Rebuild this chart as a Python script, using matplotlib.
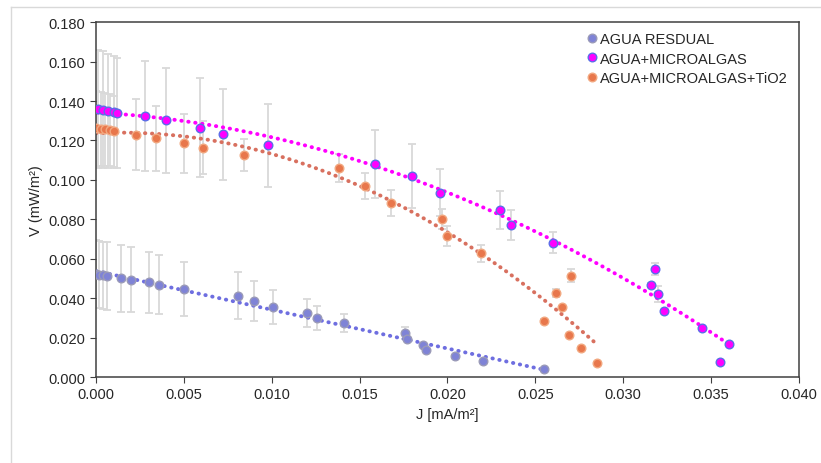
import numpy as np
import matplotlib
matplotlib.use("Agg")
import matplotlib.pyplot as plt
from matplotlib.lines import Line2D

plt.rcParams['font.family'] = ['Liberation Sans', 'DejaVu Sans']

# AGUA RESDUAL
j_res = [0.0000, 0.0002, 0.0004, 0.0006, 0.0014, 0.0020, 0.0030, 0.0036, 0.0050,
         0.0081, 0.0090, 0.0101, 0.0120, 0.0126, 0.0141, 0.0176, 0.0177, 0.0186,
         0.0188, 0.0204, 0.0220, 0.0255]
v_res = [0.0524, 0.0520, 0.0516, 0.0513, 0.0500, 0.0493, 0.0481, 0.0468, 0.0447,
         0.0413, 0.0385, 0.0354, 0.0325, 0.0300, 0.0273, 0.0224, 0.0193, 0.0164,
         0.0139, 0.0106, 0.0080, 0.0039]
e_res = [0.0172, 0.0172, 0.0171, 0.0171, 0.0170, 0.0165, 0.0155, 0.0150, 0.0137,
         0.0120, 0.0100, 0.0086, 0.0073, 0.0060, 0.0047, 0.0030, 0.0010, 0.0008,
         0.0008, 0.0008, 0.0008, 0.0006]

# AGUA+MICROALGAS
j_mic = [0.0001, 0.0004, 0.0007, 0.0010, 0.0012, 0.0028, 0.0040, 0.0059, 0.0072,
         0.0098, 0.0159, 0.0180, 0.0196, 0.0230, 0.0236, 0.0260, 0.0316, 0.0318,
         0.0320, 0.0323, 0.0345, 0.0355, 0.0360]
v_mic = [0.1360, 0.1357, 0.1350, 0.1345, 0.1340, 0.1325, 0.1302, 0.1265, 0.1232,
         0.1176, 0.1081, 0.1021, 0.0936, 0.0849, 0.0770, 0.0681, 0.0469, 0.0549,
         0.0422, 0.0334, 0.0248, 0.0078, 0.0166]
e_mic = [0.0300, 0.0295, 0.0290, 0.0285, 0.0280, 0.0280, 0.0265, 0.0250, 0.0230,
         0.0210, 0.0174, 0.0162, 0.0120, 0.0097, 0.0075, 0.0053, 0.0010, 0.0030,
         0.0040, 0.0008, 0.0006, 0.0005, 0.0005]

# AGUA+MICROALGAS+TiO2
j_tio = [0.0000, 0.0003, 0.0005, 0.0008, 0.0010, 0.0023, 0.0034, 0.0050, 0.0061,
         0.0084, 0.0138, 0.0153, 0.0168, 0.0197, 0.0200, 0.0219, 0.0255, 0.0262,
         0.0265, 0.0269, 0.0270, 0.0276, 0.0285]
v_tio = [0.1262, 0.1259, 0.1256, 0.1252, 0.1246, 0.1230, 0.1212, 0.1185, 0.1164,
         0.1125, 0.1060, 0.0970, 0.0883, 0.0803, 0.0716, 0.0629, 0.0285, 0.0426,
         0.0354, 0.0212, 0.0515, 0.0146, 0.0070]
e_tio = [0.0190, 0.0188, 0.0186, 0.0184, 0.0182, 0.0180, 0.0165, 0.0150, 0.0135,
         0.0080, 0.0070, 0.0066, 0.0064, 0.0050, 0.0050, 0.0043, 0.0008, 0.0020,
         0.0008, 0.0008, 0.0035, 0.0006, 0.0006]

labels = ["AGUA RESDUAL", "AGUA+MICROALGAS", "AGUA+MICROALGAS+TiO2"]

fig = plt.figure(figsize=(8.21, 4.64), dpi=100)
ax = fig.add_axes([0.1169, 0.1853, 0.8563, 0.7647])

# chart area border (only top and left visible)
fig.add_artist(Line2D([0.0134, 1.0], [0.983, 0.983], transform=fig.transFigure,
                      color='#d9d9d9', lw=1))
fig.add_artist(Line2D([0.0134, 0.0134], [0.0, 0.983], transform=fig.transFigure,
                      color='#d9d9d9', lw=1))

series = [
    (j_res, v_res, e_res, '#7f83d6', '#9a9ab8', '#6e6ee0', 1),
    (j_mic, v_mic, e_mic, '#ff00ff', '#5b6ee8', '#ff00ff', 2),
    (j_tio, v_tio, e_tio, '#e8774c', '#f2a880', '#d8705f', 2),
]

handles = []
for (jx, vy, ey, face, edge, tcol, deg), lab in zip(series, labels):
    jx = np.array(jx)
    vy = np.array(vy)
    ax.errorbar(jx, vy, yerr=ey, fmt='none', ecolor='#d9d9d9', elinewidth=1.3,
                capsize=3, capthick=1.3, zorder=1)
    coef = np.polyfit(jx, vy, deg)
    xt = np.linspace(jx.min(), jx.max(), 200)
    ax.plot(xt, np.polyval(coef, xt), color=tcol, lw=2.8,
            linestyle=(0, (0.1, 1.7)), dash_capstyle='round', zorder=2)
    ax.plot(jx, vy, 'o', ms=6.2, mfc=face, mec=edge, mew=1.0, zorder=3)
    handles.append(Line2D([], [], ls='none', marker='o', ms=6.2, mfc=face,
                          mec=edge, mew=1.0))

ax.set_xlim(0, 0.040)
ax.set_ylim(0, 0.180)
ax.set_xticks(np.arange(0, 0.0401, 0.005))
ax.set_yticks(np.arange(0, 0.1801, 0.020))
ax.xaxis.set_major_formatter(plt.FormatStrFormatter('%.3f'))
ax.yaxis.set_major_formatter(plt.FormatStrFormatter('%.3f'))
ax.tick_params(labelsize=10.5, length=4, color='#404040', labelcolor='#262626')
for s in ax.spines.values():
    s.set_color('#404040')
    s.set_linewidth(1.1)

ax.set_xlabel("J [mA/m²]", fontsize=10.5, color='#262626', labelpad=4)
ax.set_ylabel("V (mW/m²)", fontsize=10.5, color='#262626', labelpad=4)

ax.legend(handles, labels, loc='upper left', bbox_to_anchor=(0.68, 1.0),
          frameon=False, fontsize=10.5, handletextpad=0.05, handlelength=1.0,
          labelspacing=0.35, borderaxespad=0.3, labelcolor='#262626')

fig.savefig("out.png", dpi=100)
